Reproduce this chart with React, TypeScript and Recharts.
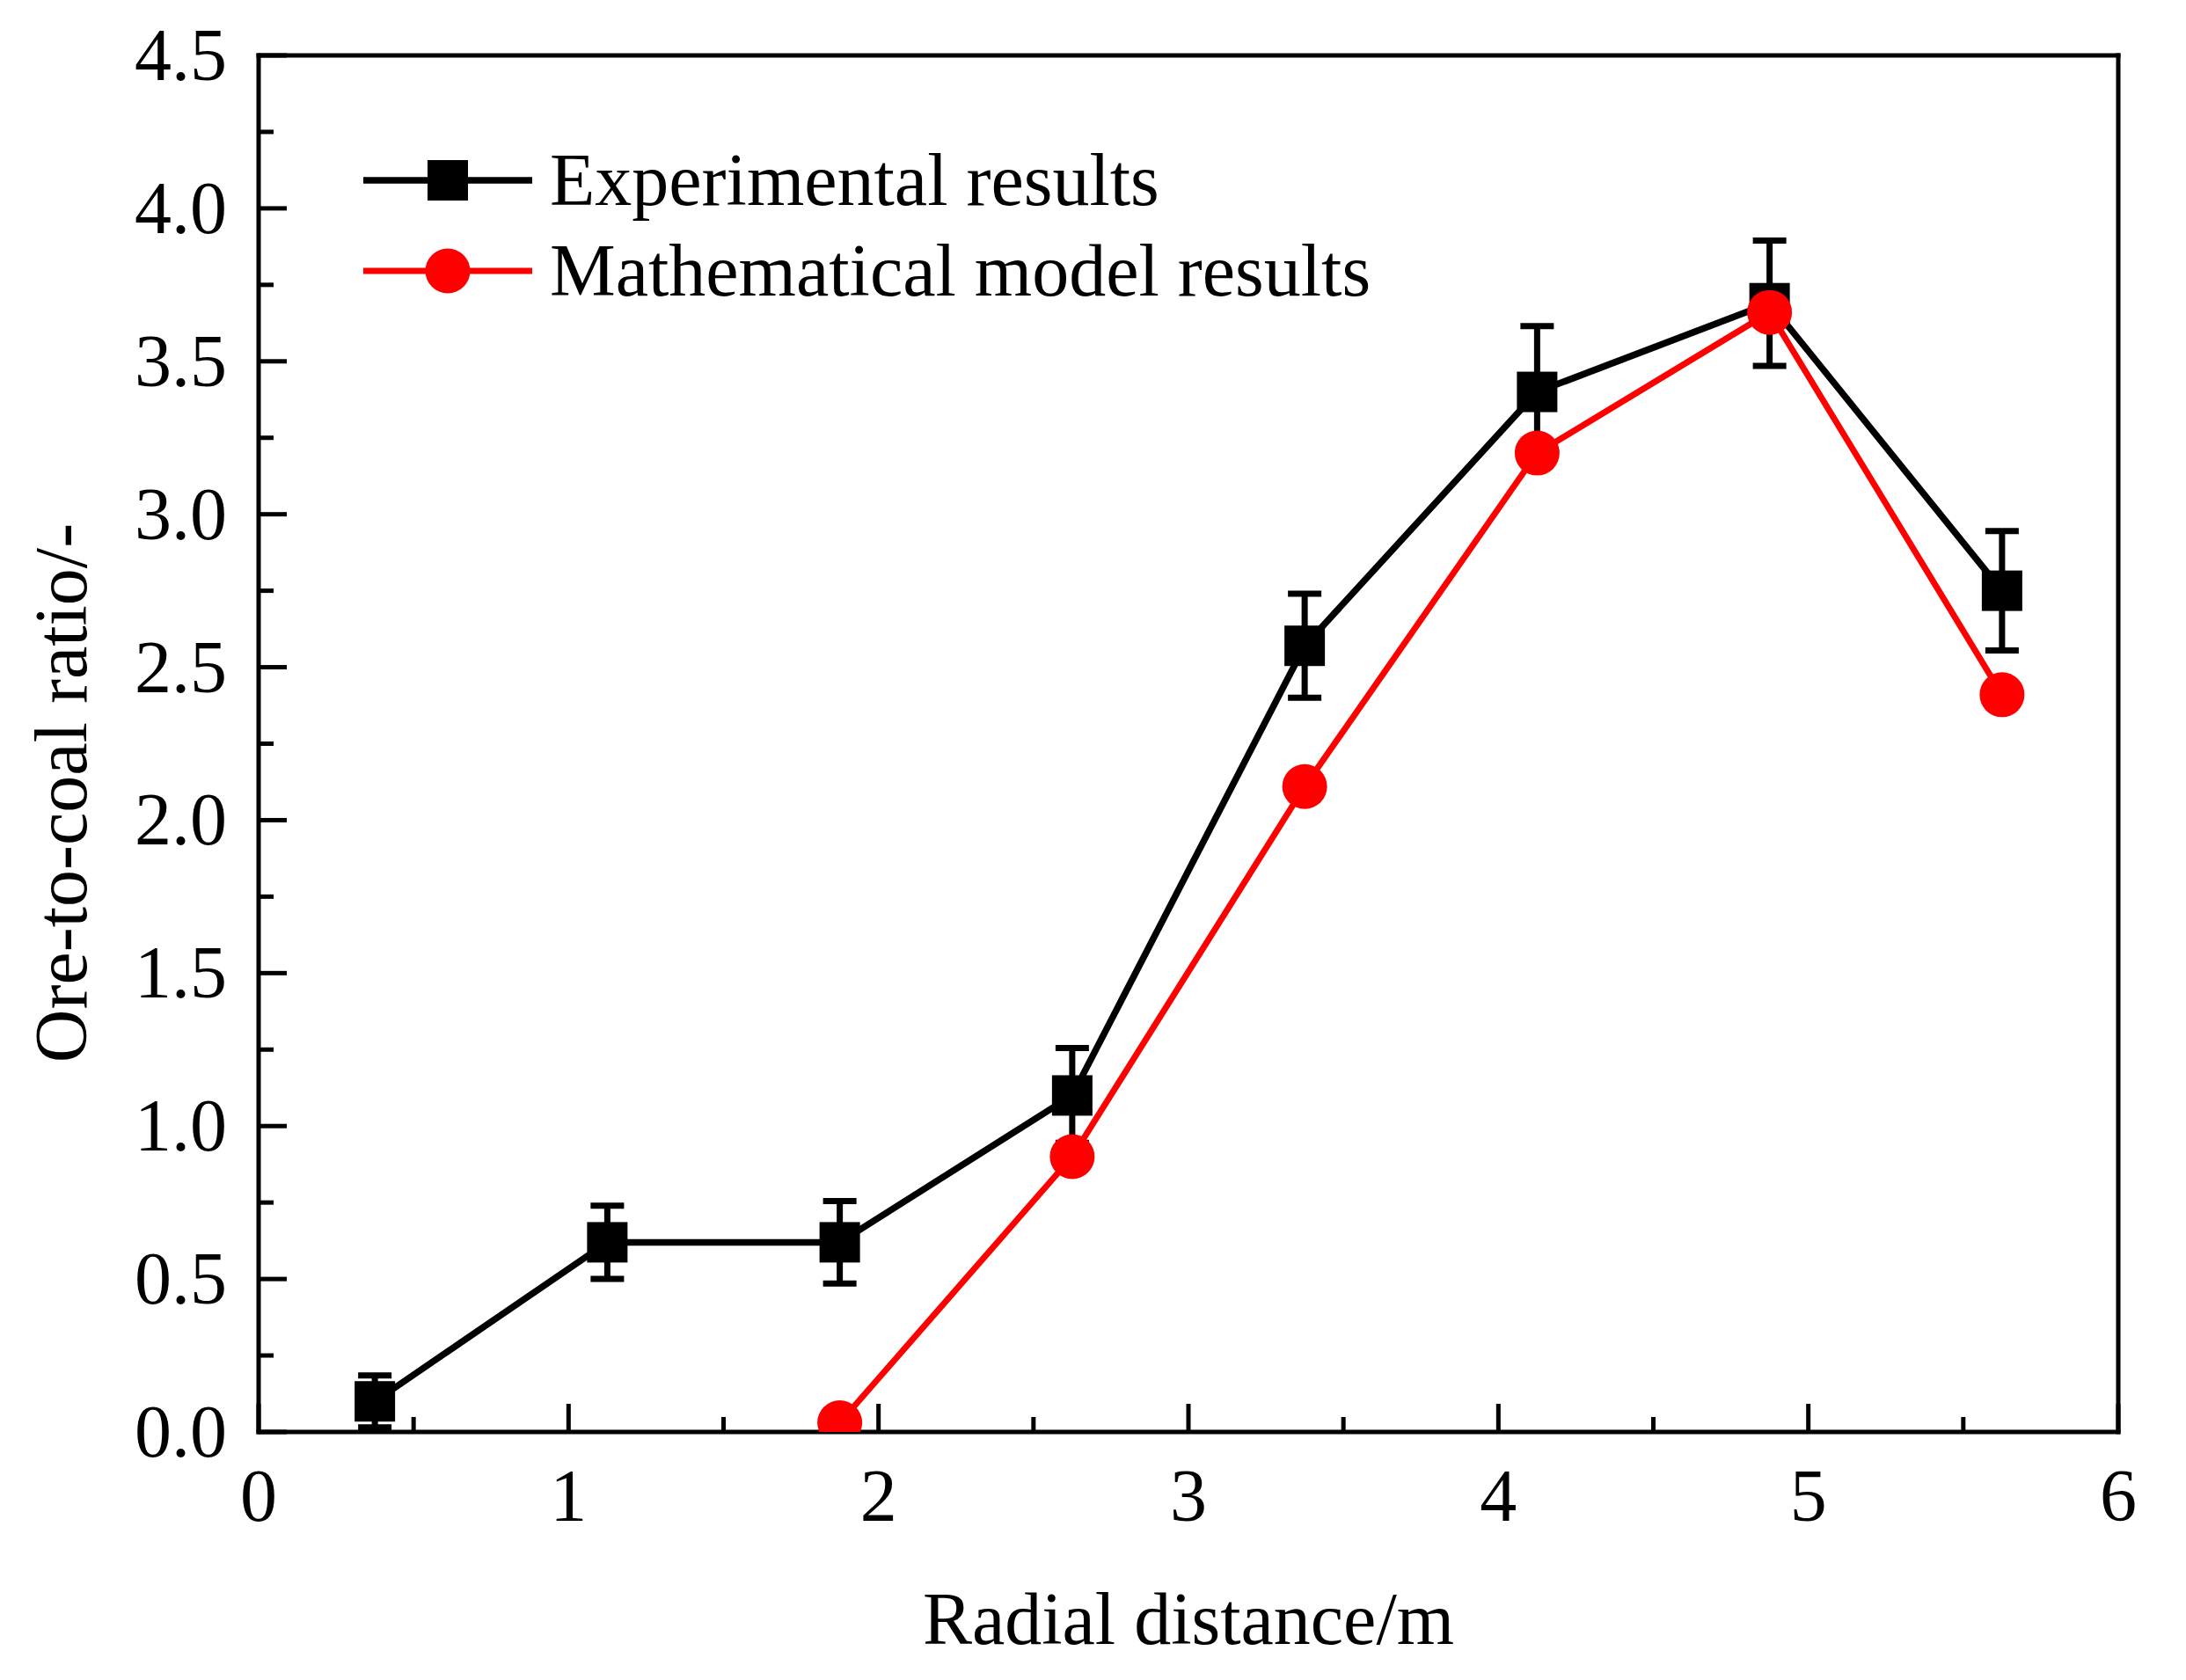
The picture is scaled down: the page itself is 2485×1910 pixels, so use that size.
import React from "react";
import { LineChart, Line, XAxis, YAxis, ErrorBar, Legend, ReferenceLine } from "recharts";

// 径向距离 (m)
const radialDistance = [0.375, 1.125, 1.875, 2.625, 3.375, 4.125, 4.875, 5.625];
// 实验结果及误差
const experimental = [0.1, 0.62, 0.62, 1.1, 2.57, 3.4, 3.69, 2.75];
const experimentalError = [0.085, 0.12, 0.135, 0.155, 0.17, 0.215, 0.205, 0.195];
// 数学模型结果
const model = [null, null, 0.03, 0.9, 2.11, 3.2, 3.66, 2.41];

const xTicks = [0, 0.5, 1, 1.5, 2, 2.5, 3, 3.5, 4, 4.5, 5, 5.5, 6];
const yTicks = [
  0, 0.25, 0.5, 0.75, 1, 1.25, 1.5, 1.75, 2, 2.25, 2.5, 2.75, 3, 3.25, 3.5,
  3.75, 4, 4.25, 4.5,
];
const xDomain = [0, 6];
const yDomain = [0, 4.5];

const seriesNames = ["Experimental results", "Mathematical model results"];
const xTitle = "Radial distance/m";
const yTitle = "Ore-to-coal ratio/-";

const FONT = "'Liberation Serif', 'Times New Roman', serif";
const FONT_SIZE = 84;
const AXIS = { stroke: "#000", strokeWidth: 5, strokeLinecap: "square" as const };

const data = radialDistance.map((x, i) => ({
  x,
  experimental: experimental[i],
  error: experimentalError[i],
  model: model[i],
}));

function YTick({ x, y, payload }: any) {
  const v = payload.value as number;
  const major = Math.abs(v * 2 - Math.round(v * 2)) < 1e-6;
  return (
    <g>
      <line x1={x} x2={x + (major ? 32 : 17)} y1={y} y2={y} stroke="#000" strokeWidth={5} />
      {major && (
        <text x={x - 36} y={y + 28} textAnchor="end" fontFamily={FONT} fontSize={FONT_SIZE} fill="#000">
          {v.toFixed(1)}
        </text>
      )}
    </g>
  );
}

function XTick({ x, y, payload }: any) {
  const v = payload.value as number;
  const major = Number.isInteger(v);
  return (
    <g>
      <line x1={x} x2={x} y1={y} y2={y - (major ? 32 : 17)} stroke="#000" strokeWidth={5} />
      {major && (
        <text x={x} y={y + 101} textAnchor="middle" fontFamily={FONT} fontSize={FONT_SIZE} fill="#000">
          {v}
        </text>
      )}
    </g>
  );
}

function XTitle({ viewBox }: any) {
  const vb = viewBox || { x: 286, y: 1620, width: 2114, height: 120 };
  return (
    <text x={vb.x + vb.width / 2} y={vb.y + 241} textAnchor="middle" fontFamily={FONT} fontSize={FONT_SIZE} fill="#000">
      {xTitle}
    </text>
  );
}

function YTitle({ viewBox }: any) {
  const vb = viewBox || { x: 86, y: 55, width: 200, height: 1565 };
  const x = vb.x + 4;
  const y = vb.y + vb.height / 2 + 56;
  return (
    <text x={x} y={y} transform={`rotate(-90, ${x}, ${y})`} textAnchor="middle" fontFamily={FONT} fontSize={FONT_SIZE} fill="#000">
      {yTitle}
    </text>
  );
}

const SquareDot = (props: any) => {
  const { cx, cy, index } = props;
  if (cx == null || cy == null) return <g key={`sq-${index}`} />;
  return <rect key={`sq-${index}`} x={cx - 23} y={cy - 23} width={46} height={46} fill="#000" />;
};

const CircleDot = (props: any) => {
  const { cx, cy, index } = props;
  if (cx == null || cy == null) return <g key={`ci-${index}`} />;
  return <circle key={`ci-${index}`} cx={cx} cy={cy} r={25.5} fill="#ff0000" />;
};

function LegendBox() {
  return (
    <svg width={1300} height={200} style={{ display: "block" }}>
      <line x1={5} x2={197} y1={47} y2={47} stroke="#000" strokeWidth={7.5} />
      <rect x={101 - 23} y={47 - 23} width={46} height={46} fill="#000" />
      <text x={217} y={75} fontFamily={FONT} fontSize={FONT_SIZE} fill="#000">
        {seriesNames[0]}
      </text>
      <line x1={5} x2={197} y1={150} y2={150} stroke="#ff0000" strokeWidth={7} />
      <circle cx={101} cy={150} r={25.5} fill="#ff0000" />
      <text x={217} y={178} fontFamily={FONT} fontSize={FONT_SIZE} fill="#000">
        {seriesNames[1]}
      </text>
    </svg>
  );
}

export default function App() {
  return (
    <div style={{ width: 2470, height: 1895, background: "#fff" }}>
      <LineChart
        width={2470}
        height={1895}
        data={data}
        margin={{ top: 55, right: 70, bottom: 155, left: 86 }}
      >
        <XAxis
          dataKey="x"
          type="number"
          domain={xDomain}
          ticks={xTicks}
          interval={0}
          allowDataOverflow
          height={120}
          tickSize={0}
          tickMargin={0}
          tickLine={false}
          axisLine={AXIS}
          tick={<XTick />}
          label={<XTitle />}
        />
        <YAxis
          type="number"
          domain={yDomain}
          ticks={yTicks}
          interval={0}
          allowDataOverflow
          width={200}
          tickSize={0}
          tickMargin={0}
          tickLine={false}
          axisLine={AXIS}
          tick={<YTick />}
          label={<YTitle />}
        />
        {/* 上边框与右边框 */}
        <ReferenceLine y={yDomain[1]} stroke="#000" strokeWidth={5} strokeLinecap="square" ifOverflow="visible" />
        <ReferenceLine x={xDomain[1]} stroke="#000" strokeWidth={5} strokeLinecap="square" ifOverflow="visible" />
        <Legend
          layout="vertical"
          align="center"
          verticalAlign="middle"
          content={<LegendBox />}
          wrapperStyle={{ left: 400, top: 150, width: 1300, height: 200 }}
        />
        <Line
          dataKey="experimental"
          name={seriesNames[0]}
          stroke="#000"
          strokeWidth={7.5}
          dot={SquareDot}
          activeDot={false}
          isAnimationActive={false}
        />
        <Line
          dataKey="model"
          name={seriesNames[1]}
          stroke="#ff0000"
          strokeWidth={7}
          dot={CircleDot}
          activeDot={false}
          isAnimationActive={false}
        />
        {/* 误差棒放在最上层 */}
        <Line
          dataKey="experimental"
          stroke="none"
          dot={false}
          activeDot={false}
          legendType="none"
          isAnimationActive={false}
        >
          <ErrorBar dataKey="error" width={19} strokeWidth={7} stroke="#000" direction="y" />
        </Line>
      </LineChart>
    </div>
  );
}
